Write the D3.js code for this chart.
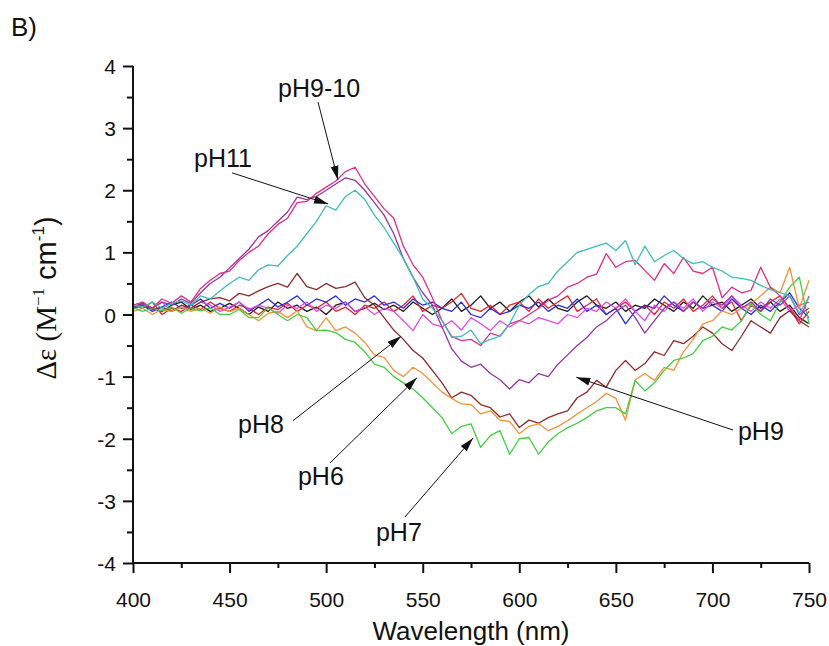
<!DOCTYPE html>
<html>
<head>
<meta charset="utf-8">
<script src="https://cdn.jsdelivr.net/npm/d3@7"></script>
<style>
  body { margin: 0; background: #fff; }
  svg text { font-family: Arial, "Liberation Sans", sans-serif; fill: #111; }
</style>
</head>
<body>
<div id="chart"></div>
<script>
// spettri CD (Δε) a diversi pH, letti a occhio dalla figura, passo 5 nm
const lunghezzeOnda = [
  400, 405, 410, 415, 420, 425, 430, 435, 440, 445,
  450, 455, 460, 465, 470, 475, 480, 485, 490, 495,
  500, 505, 510, 515, 520, 525, 530, 535, 540, 545,
  550, 555, 560, 565, 570, 575, 580, 585, 590, 595,
  600, 605, 610, 615, 620, 625, 630, 635, 640, 645,
  650, 655, 660, 665, 670, 675, 680, 685, 690, 695,
  700, 705, 710, 715, 720, 725, 730, 735, 740, 745,
  750
];

// curve "piatte" vicino allo zero
const nero = [
  0.12, 0.18, 0.10, 0.05, 0.15, 0.20, 0.08, 0.15, 0.05, 0.10,
  0.18, 0.10, 0.00, 0.12, 0.05, 0.20, 0.10, 0.15, 0.05, 0.12,
  0.00, 0.15, 0.20, 0.05, 0.10, 0.18, 0.08, 0.15, 0.05, 0.20,
  0.10, 0.00, 0.10, 0.25, 0.05, 0.15, 0.30, 0.10, 0.20, 0.05,
  0.20, 0.30, 0.12, 0.25, 0.10, 0.05, 0.20, 0.30, 0.15, 0.10,
  0.20, 0.05, 0.15, 0.10, 0.25, 0.15, 0.05, 0.20, 0.10, 0.30,
  0.15, 0.20, 0.05, 0.15, 0.25, 0.10, 0.20, 0.05, 0.15, -0.05,
  -0.15
];
const rosso = [
  0.15, 0.10, 0.20, 0.00, 0.10, 0.05, 0.15, 0.08, 0.20, 0.10,
  0.05, 0.15, 0.10, 0.00, 0.12, 0.08, 0.18, 0.05, 0.15, 0.10,
  0.20, 0.05, 0.12, 0.00, 0.15, 0.10, 0.20, 0.05, 0.15, 0.30,
  0.05, 0.15, 0.10, 0.20, 0.34, 0.10, 0.05, 0.15, 0.00, 0.15,
  0.20, 0.05, 0.25, 0.10, 0.20, 0.30, 0.05, 0.15, 0.25, 0.00,
  0.10, 0.20, 0.05, 0.15, 0.00, 0.20, 0.10, 0.25, 0.05, 0.15,
  0.30, 0.10, 0.20, -0.10, 0.15, 0.05, 0.20, 0.30, 0.10, -0.15,
  0.05
];
const blu = [
  0.10, 0.15, 0.05, 0.12, 0.20, 0.10, 0.15, 0.25, 0.10, 0.18,
  0.10, 0.20, 0.05, 0.15, 0.25, 0.12, 0.20, 0.30, 0.15, 0.25,
  0.20, 0.30, 0.15, 0.25, 0.20, 0.30, 0.15, 0.20, 0.10, 0.25,
  0.15, 0.20, 0.10, 0.05, 0.20, 0.00, -0.05, 0.10, 0.00, 0.05,
  0.15, 0.10, 0.20, 0.05, 0.15, 0.10, 0.25, 0.05, 0.15, 0.00,
  0.10, -0.15, 0.05, 0.15, 0.10, 0.30, 0.15, 0.05, 0.20, 0.10,
  0.15, 0.05, 0.25, 0.10, 0.00, 0.15, 0.05, 0.20, 0.35, 0.10,
  -0.05
];
const magentaChiaro = [
  0.08, 0.15, 0.10, 0.20, 0.05, 0.12, 0.10, 0.20, 0.15, 0.05,
  0.12, 0.20, 0.08, 0.15, 0.10, 0.02, 0.15, 0.10, 0.20, 0.05,
  0.15, 0.10, 0.20, 0.05, 0.12, 0.00, 0.10, 0.05, -0.10, -0.26,
  0.00, -0.15, -0.20, -0.10, -0.25, -0.05, -0.15, -0.26, -0.10, -0.20,
  -0.10, -0.15, -0.05, -0.10, -0.15, 0.00, -0.05, 0.10, 0.05, 0.20,
  0.10, 0.25, 0.05, -0.10, 0.15, 0.05, 0.20, 0.10, 0.25, 0.05,
  0.20, 0.10, 0.30, 0.15, 0.05, 0.20, 0.10, 0.25, 0.05, 0.15,
  0.20
];

// pH8 (marrone)
const pH8 = [
  0.10, 0.15, 0.08, 0.12, 0.05, 0.15, 0.10, 0.20, 0.25, 0.27,
  0.22, 0.34, 0.30, 0.38, 0.45, 0.50, 0.44, 0.66, 0.45, 0.40,
  0.50, 0.42, 0.45, 0.52, 0.27, 0.15, -0.05, -0.25, -0.40, -0.58,
  -0.70, -0.90, -1.10, -1.34, -1.25, -1.30, -1.45, -1.50, -1.65, -1.60,
  -1.82, -1.70, -1.75, -1.66, -1.60, -1.55, -1.34, -1.25, -1.06, -1.17,
  -0.90, -0.74, -0.90, -0.79, -0.60, -0.66, -0.42, -0.47, -0.35, -0.20,
  -0.30, -0.47, -0.58, -0.35, -0.10, -0.20, -0.30, -0.05, 0.06, -0.10,
  -0.20
];
// pH6 (arancio)
const pH6 = [
  0.05, 0.10, 0.00, 0.08, 0.05, 0.12, 0.05, 0.10, 0.02, 0.12,
  0.05, 0.10, 0.00, -0.10, 0.02, 0.05, -0.05, 0.06, -0.20, -0.26,
  -0.05, -0.26, -0.20, -0.30, -0.45, -0.65, -0.69, -0.90, -1.00, -0.85,
  -0.95, -1.10, -1.25, -1.35, -1.44, -1.45, -1.60, -1.55, -1.70, -1.72,
  -1.92, -1.80, -1.76, -1.87, -1.80, -1.71, -1.60, -1.50, -1.40, -1.27,
  -1.35, -1.70, -1.05, -0.95, -1.06, -0.85, -0.90, -0.60, -0.40, -0.15,
  -0.10, 0.06, 0.00, 0.10, 0.17, 0.30, 0.44, 0.35, 0.76, 0.10,
  0.55
];
// pH7 (verde)
const pH7 = [
  0.11, 0.05, 0.10, 0.06, 0.12, 0.02, 0.10, 0.06, 0.11, 0.00,
  0.00, 0.08, -0.05, -0.05, 0.11, 0.00, -0.10, 0.00, -0.05, -0.26,
  -0.25, -0.29, -0.40, -0.45, -0.60, -0.80, -0.85, -1.00, -1.10, -1.20,
  -1.34, -1.50, -1.66, -1.92, -1.80, -1.76, -2.14, -1.95, -1.87, -2.25,
  -2.00, -1.98, -2.25, -2.05, -1.92, -1.82, -1.75, -1.66, -1.55, -1.50,
  -1.50, -1.60, -1.06, -1.23, -1.10, -0.90, -0.74, -0.70, -0.63, -0.42,
  -0.35, -0.20, -0.25, -0.10, 0.17, 0.00, -0.10, 0.20, 0.44, 0.60,
  -0.15
];
// pH9 (viola): positivo a 515, negativo a 600
const pH9 = [
  0.12, 0.18, 0.10, 0.20, 0.15, 0.25, 0.18, 0.35, 0.50, 0.60,
  0.75, 0.90, 1.05, 1.25, 1.35, 1.50, 1.65, 1.89, 1.85, 1.90,
  2.00, 2.10, 2.20, 2.16, 2.00, 1.80, 1.60, 1.30, 0.90, 0.60,
  0.35, 0.15, -0.20, -0.55, -0.75, -0.85, -0.80, -0.95, -1.05, -1.20,
  -1.05, -1.10, -0.95, -1.00, -0.80, -0.65, -0.50, -0.37, -0.20, -0.10,
  0.05, 0.15, -0.05, -0.30, -0.10, 0.10, 0.20, 0.05, 0.20, 0.10,
  0.25, 0.15, 0.30, 0.10, 0.20, 0.05, 0.25, 0.15, 0.30, 0.00,
  0.10
];
// pH9-10 (rosa)
const pH910 = [
  0.15, 0.20, 0.10, 0.25, 0.18, 0.30, 0.20, 0.42, 0.55, 0.66,
  0.70, 0.87, 1.00, 1.10, 1.30, 1.45, 1.55, 1.80, 1.82, 1.95,
  2.05, 2.15, 2.30, 2.37, 2.10, 1.90, 1.70, 1.55, 1.10, 0.80,
  0.60, 0.27, -0.10, -0.35, -0.42, -0.40, -0.50, -0.30, -0.35, -0.15,
  -0.10, 0.00, 0.10, 0.23, 0.30, 0.44, 0.50, 0.60, 0.65, 0.98,
  0.76, 0.85, 0.87, 0.71, 0.55, 0.82, 0.66, 0.92, 0.70, 0.66,
  0.76, 0.27, 0.44, 0.35, 0.39, 0.76, 0.44, 0.30, 0.11, -0.10,
  0.30
];
// pH11 (ciano)
const pH11 = [
  0.15, 0.12, 0.20, 0.10, 0.18, 0.22, 0.15, 0.30, 0.25, 0.38,
  0.50, 0.60, 0.55, 0.72, 0.80, 0.78, 0.95, 1.10, 1.30, 1.50,
  1.75, 1.68, 1.90, 2.00, 1.85, 1.60, 1.40, 1.15, 0.90, 0.60,
  0.25, 0.10, -0.10, -0.37, -0.35, -0.25, -0.47, -0.40, -0.35, -0.15,
  0.15, 0.32, 0.45, 0.50, 0.70, 0.85, 1.00, 1.05, 1.10, 1.15,
  1.03, 1.19, 0.80, 1.10, 0.85, 0.95, 1.03, 0.90, 0.82, 0.85,
  0.76, 0.70, 0.60, 0.58, 0.55, 0.47, 0.40, 0.35, 0.30, 0.02,
  0.27
];

const serie = [
  { nome: 'nero',    valori: nero,          colore: '#1a1a1a' },
  { nome: 'rosso',   valori: rosso,         colore: '#e3262b' },
  { nome: 'blu',     valori: blu,           colore: '#2b2bdc' },
  { nome: 'magenta', valori: magentaChiaro, colore: '#e24ae2' },
  { nome: 'pH8',     valori: pH8,           colore: '#8c2b2b' },
  { nome: 'pH6',     valori: pH6,           colore: '#f0933a' },
  { nome: 'pH7',     valori: pH7,           colore: '#3fcf3f' },
  { nome: 'pH9',     valori: pH9,           colore: '#9535a3' },
  { nome: 'pH9-10',  valori: pH910,         colore: '#de2f86' },
  { nome: 'pH11',    valori: pH11,          colore: '#3cbcbc' }
];

// etichette con freccia: posizione testo e freccia in unità dati (nm, Δε)
const annotazioni = [
  { testo: 'pH9-10', tx: 475.1, ty: 3.50,  da: [495.8, 3.42],  a: [506.1, 2.17] },
  { testo: 'pH11',   tx: 431.6, ty: 2.37,  da: [451.3, 2.28],  a: [501.0, 1.78] },
  { testo: 'pH8',    tx: 454.4, ty: -1.91, da: [482.8, -1.71], a: [538.8, -0.35] },
  { testo: 'pH6',    tx: 485.4, ty: -2.74, da: [502.0, -2.39], a: [547.0, -1.02] },
  { testo: 'pH7',    tx: 525.8, ty: -3.65, da: [540.8, -3.26], a: [576.0, -1.99] },
  { testo: 'pH9',    tx: 713.2, ty: -2.02, da: [710.7, -1.86], a: [629.5, -1.01] }
];

const tickX = [400, 450, 500, 550, 600, 650, 700, 750];
const tickY = [-4, -3, -2, -1, 0, 1, 2, 3, 4];

const width = 829, height = 646;
const margin = { top: 66, right: 20, bottom: 83, left: 133 };

const svg = d3.select('#chart').append('svg')
    .attr('width', width)
    .attr('height', height);

const x = d3.scaleLinear().domain([400, 750]).range([margin.left, width - margin.right]);
const y = d3.scaleLinear().domain([-4, 4]).range([height - margin.bottom, margin.top]);

// curve
const linea = d3.line()
    .x((d, i) => x(lunghezzeOnda[i]))
    .y(d => y(d));

svg.append('g')
    .selectAll('path')
    .data(serie)
    .join('path')
    .attr('d', d => linea(d.valori))
    .attr('fill', 'none')
    .attr('stroke', d => d.colore)
    .attr('stroke-width', 1.3)
    .attr('stroke-linejoin', 'round');

// assi: tacche maggiori con etichetta, minori a metà
const asseX = svg.append('g')
    .attr('transform', `translate(0,${y(-4)})`);
asseX.call(d3.axisBottom(x).tickValues(d3.range(400, 751, 25)).tickSize(5).tickFormat(''));
asseX.call(g => g.selectAll('.tick line').filter(d => tickX.includes(d)).attr('y2', 10));
asseX.selectAll('.tick')
    .filter(d => tickX.includes(d))
    .append('text')
    .attr('y', 44)
    .attr('text-anchor', 'middle')
    .style('font-size', '21px')
    .text(d => d);

const asseY = svg.append('g')
    .attr('transform', `translate(${x(400)},0)`);
asseY.call(d3.axisLeft(y).tickValues(d3.range(-4, 4.01, 0.5)).tickSize(6).tickFormat(''));
asseY.call(g => g.selectAll('.tick line').filter(d => tickY.includes(d)).attr('x2', -10));
asseY.selectAll('.tick')
    .filter(d => tickY.includes(d))
    .append('text')
    .attr('x', -17)
    .attr('dy', '0.36em')
    .attr('text-anchor', 'end')
    .style('font-size', '21px')
    .text(d => d);

[asseX, asseY].forEach(a => {
    a.select('.domain').attr('stroke', '#111').attr('stroke-width', 2);
    a.selectAll('.tick line').attr('stroke', '#111').attr('stroke-width', 2);
});
// niente "piedini" del dominio
asseX.select('.domain').attr('d', `M${x(400)},0H${x(750)}`);
asseY.select('.domain').attr('d', `M0,${y(-4)}V${y(4)}`);

// titoli assi
svg.append('text')
    .attr('x', (x(400) + x(750)) / 2)
    .attr('y', 640)
    .attr('text-anchor', 'middle')
    .style('font-size', '26px')
    .text('Wavelength (nm)');

const titoloY = svg.append('text')
    .attr('transform', `translate(56,298) rotate(-90)`)
    .attr('text-anchor', 'middle')
    .style('font-size', '29px');
titoloY.append('tspan').style('font-family', '"Liberation Serif", "Times New Roman", serif').text('Δε (M');
titoloY.append('tspan').attr('dy', -12).style('font-size', '17px').style('font-family', '"Liberation Serif", serif').text('−1');
titoloY.append('tspan').attr('dy', 12).text(' cm');
titoloY.append('tspan').attr('dy', -12).style('font-size', '17px').text('-1');
titoloY.append('tspan').attr('dy', 12).text(')');

// pannello
svg.append('text')
    .attr('x', 11)
    .attr('y', 36)
    .style('font-size', '26px')
    .text('B)');

// frecce
svg.append('defs').append('marker')
    .attr('id', 'punta')
    .attr('viewBox', '0 0 14 10')
    .attr('refX', 14).attr('refY', 5)
    .attr('markerWidth', 14).attr('markerHeight', 10)
    .attr('markerUnits', 'userSpaceOnUse')
    .attr('orient', 'auto')
    .append('path')
    .attr('d', 'M0,1L14,5L0,9Z')
    .attr('fill', '#111');

const note = svg.append('g');
note.selectAll('line')
    .data(annotazioni)
    .join('line')
    .attr('x1', d => x(d.da[0])).attr('y1', d => y(d.da[1]))
    .attr('x2', d => x(d.a[0])).attr('y2', d => y(d.a[1]))
    .attr('stroke', '#111')
    .attr('stroke-width', 1)
    .attr('marker-end', 'url(#punta)');

note.selectAll('text')
    .data(annotazioni)
    .join('text')
    .attr('x', d => x(d.tx))
    .attr('y', d => y(d.ty))
    .style('font-size', '25px')
    .text(d => d.testo);
</script>
</body>
</html>
